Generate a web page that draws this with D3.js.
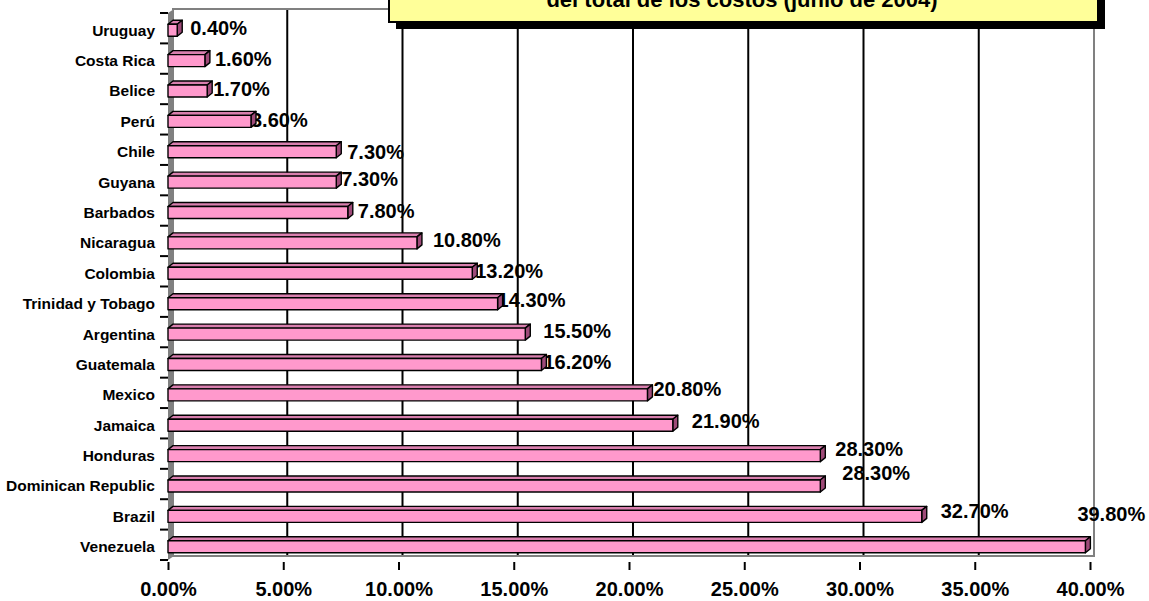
<!DOCTYPE html>
<html>
<head>
<meta charset="utf-8">
<script src="https://cdn.jsdelivr.net/npm/d3@7"></script>
<style>
  html, body { margin: 0; padding: 0; background: #fff; }
  svg { display: block; font-family: "Liberation Sans", Arial, sans-serif; font-weight: bold; }
</style>
</head>
<body>
<svg id="chart" width="1149" height="601"></svg>
<script>
// ---- data ----
const categories = ["Uruguay", "Costa Rica", "Belice", "Perú", "Chile", "Guyana", "Barbados",
  "Nicaragua", "Colombia", "Trinidad y Tobago", "Argentina", "Guatemala", "Mexico", "Jamaica",
  "Honduras", "Dominican Republic", "Brazil", "Venezuela"];
const values = [0.4, 1.6, 1.7, 3.6, 7.3, 7.3, 7.8, 10.8, 13.2, 14.3, 15.5, 16.2, 20.8, 21.9,
  28.3, 28.3, 32.7, 39.8];
const tickValues = [0, 5, 10, 15, 20, 25, 30, 35, 40];
const titleText = "del total de los costos (junio de 2004)";

// ---- layout (manual data-label placement, px from bar end / band centre) ----
const labelOffsets = [[13, 0], [10, 0], [6, 0], [0, 0], [11, 2], [5, -1], [10, 0], [16, -1],
  [3, -1], [0, -2], [18, -1], [2, -1], [6, -4], [19, -2], [15, -5], [22, -11], [19, -4], [-8, -31]];

const svg = d3.select("#chart");
const X0 = 168, X1 = 1090, Y0 = 13, Y1 = 560;
const wdx = 4, wdy = -4;   // wall depth
const bdx = 5, bdy = -4;   // bar depth

const x = d3.scaleLinear().domain([0, 40]).range([X0, X1]);
const y = d3.scaleBand().domain(categories).range([Y0, Y1]);
const step = y.step();

// back wall
svg.append("rect").attr("x", X0 + wdx).attr("y", Y0 + wdy)
  .attr("width", X1 - X0).attr("height", Y1 - Y0).attr("fill", "#fff");

// gridlines on back wall
svg.append("g").selectAll("line").data(tickValues.filter(d => d > 0 && d < 40)).join("line")
  .attr("x1", d => x(d) + wdx).attr("x2", d => x(d) + wdx)
  .attr("y1", Y0 + wdy).attr("y2", Y1 + wdy)
  .attr("stroke", "#000").attr("stroke-width", 2);

// back wall border (gray)
svg.append("path")
  .attr("d", `M${X0 + wdx},${Y0 + wdy}H${X1 + wdx}V${Y1 + wdy}H${X0 + wdx}`)
  .attr("fill", "none").attr("stroke", "#808080").attr("stroke-width", 2);

// left wall (gray)
svg.append("path")
  .attr("d", `M${X0},${Y0}L${X0 + wdx + 2},${Y0 + wdy}V${Y1 + wdy}L${X0},${Y1}Z`)
  .attr("fill", "#808080");

// data labels (drawn beneath bars)
svg.append("g").selectAll("text").data(categories).join("text")
  .attr("x", (d, i) => x(values[i]) + labelOffsets[i][0])
  .attr("y", (d, i) => y(d) + step / 2 + labelOffsets[i][1])
  .attr("dy", "0.36em")
  .attr("font-size", 20).attr("fill", "#000")
  .text((d, i) => values[i].toFixed(2) + "%");

// bars
const bars = svg.append("g").selectAll("g").data(categories).join("g")
  .attr("stroke", "#000").attr("stroke-width", 1.4).attr("stroke-linejoin", "round");
bars.each(function (d, i) {
  const g = d3.select(this);
  const c = y(d) + step / 2;
  const xe = x(values[i]);
  const top = c - 4, bot = c + 8;
  g.append("path")
    .attr("d", `M${X0},${top}L${X0 + bdx},${top + bdy}H${xe + bdx}L${xe},${top}Z`)
    .attr("fill", "#D97FAE");
  g.append("path")
    .attr("d", `M${xe},${top}L${xe + bdx},${top + bdy}V${bot + bdy}L${xe},${bot}Z`)
    .attr("fill", "#9E4A78");
  g.append("rect").attr("x", X0).attr("y", top).attr("width", xe - X0).attr("height", bot - top)
    .attr("fill", "#FF99CC");
});

// category axis ticks (at band boundaries)
svg.append("g").selectAll("line").data(d3.range(categories.length + 1)).join("line")
  .attr("x1", X0 - 8).attr("x2", X0)
  .attr("y1", i => Y0 + i * step).attr("y2", i => Y0 + i * step)
  .attr("stroke", "#000").attr("stroke-width", 2);

// category labels
const yAxis = svg.append("g").attr("transform", `translate(${X0},0)`)
  .call(d3.axisLeft(y).tickSize(0).tickPadding(13));
yAxis.select(".domain").remove();
yAxis.selectAll("text").attr("font-size", 15.5).attr("font-family", null)
  .attr("font-weight", "bold").attr("fill", "#000").attr("dy", "0.48em");

// value axis
const xAxis = svg.append("g").attr("transform", `translate(0,${Y1 + 2})`)
  .call(d3.axisBottom(x).tickValues(tickValues).tickFormat(d => d.toFixed(2) + "%")
    .tickSizeInner(8).tickSizeOuter(0).tickPadding(12));
xAxis.select(".domain").remove();
xAxis.selectAll("line").attr("stroke", "#000").attr("stroke-width", 2);
xAxis.selectAll("text").attr("font-size", 20).attr("font-family", null)
  .attr("font-weight", "bold").attr("fill", "#000");

// title box (partially outside the view)
svg.append("rect").attr("x", 396).attr("y", -53).attr("width", 709).attr("height", 82).attr("fill", "#000");
svg.append("rect").attr("x", 389).attr("y", -60).attr("width", 709).attr("height", 82)
  .attr("fill", "#FFFF99").attr("stroke", "#000").attr("stroke-width", 2);
svg.append("text").attr("x", 742).attr("y", 7).attr("text-anchor", "middle")
  .attr("font-size", 22).attr("fill", "#000").text(titleText);
</script>
</body>
</html>
